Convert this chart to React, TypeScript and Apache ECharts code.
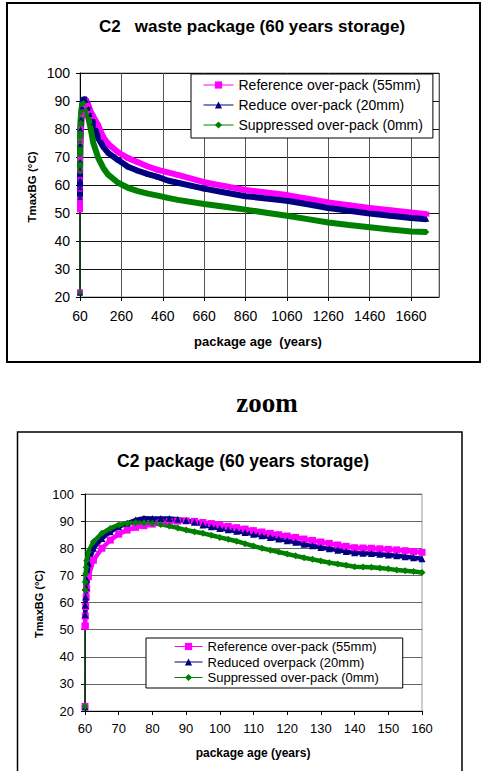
import React, { useEffect, useRef } from "react";
import * as echarts from "echarts";

// ---------- upper chart: package age 60 … 1736 years ----------
const LONG_AGES = [
  60, 60.05, 60.1, 60.2, 60.35, 60.5, 61, 62.5, 65, 70, 75, 80, 90, 100, 110, 124, 148, 172, 196,
  244, 292, 340, 388, 436, 484, 532, 660, 760, 860, 960, 1060, 1160, 1260, 1360, 1460, 1560, 1660,
  1736,
];
const LONG_REF_55 = [
  21.7, 51.3, 55, 58.5, 62, 65, 69.5, 75.6, 80, 85.2, 87.7, 88.9, 90.1, 88.6, 86.5, 84.5, 81.3,
  77.1, 74.7, 71.7, 69.6, 68.1, 66.6, 65.4, 64.5, 63.6, 61, 59.6, 58.2, 57.3, 56.4, 55.1, 53.8,
  52.8, 51.8, 51, 50.2, 49.6,
];
const LONG_RED_20 = [
  21.5, 55.5, 59, 62, 65.5, 68.5, 74.4, 80, 83.6, 87.9, 90.4, 91, 90.2, 87.3, 85.2, 82.1, 76.7,
  73.7, 71.5, 68.9, 66.5, 65.1, 63.9, 62.9, 61.6, 60.8, 58.7, 57.3, 56, 55.2, 54.4, 53.1, 51.8,
  50.8, 49.8, 49, 48.2, 47.8,
];
const LONG_SUP_0 = [
  21.7, 64.6, 67.6, 70.5, 73, 75.5, 78.7, 82.4, 85.5, 88.6, 89.4, 89.2, 86.7, 84, 80.8, 75.1, 69.7,
  66.2, 63.7, 60.8, 59, 57.8, 56.9, 56.2, 55.4, 54.7, 53.2, 52.2, 51.2, 50.1, 49, 47.8, 46.6, 45.7,
  44.9, 44.1, 43.4, 43.2,
];

// ---------- lower chart (zoom): package age 60 … 160 years ----------
const ZOOM_AGES = [
  60, 60.05, 60.1, 60.2, 60.35, 60.5, 61, 62.5, 65, 67.5, 70, 72.5, 75, 77.5, 80, 82.5, 85, 87.5,
  90, 92.5, 95, 97.5, 100, 102.5, 105, 107.5, 110, 112.5, 115, 117.5, 120, 122.5, 125, 127.5, 130,
  132.5, 135, 137.5, 140, 142.5, 145, 147.5, 150, 152.5, 155, 157.5, 160,
];
const ZOOM_REF_55 = [
  21.7, 51.3, 55, 58.5, 62, 65, 69.5, 75.6, 80, 83, 85.2, 86.7, 87.7, 88.3, 88.9, 89.4, 89.8, 90,
  90.1, 89.9, 89.5, 89.1, 88.6, 88.1, 87.6, 87.1, 86.5, 86, 85.5, 85, 84.5, 84, 83.4, 82.9, 82.3,
  81.8, 81.2, 80.7, 80.2, 80.1, 80, 79.8, 79.6, 79.4, 79.1, 78.8, 78.5,
];
const ZOOM_RED_20 = [
  21.5, 55.5, 59, 62, 65.5, 68.5, 74.4, 80, 83.6, 86.1, 87.9, 89.2, 90.4, 91.1, 91, 91, 91, 90.7,
  90.2, 89.6, 88.6, 87.9, 87.3, 86.8, 86.3, 85.8, 85.2, 84.6, 84, 83.4, 82.8, 82.2, 81.5, 80.9, 80.3,
  79.8, 79.3, 78.8, 78.3, 78.2, 78.1, 77.8, 77.5, 77.2, 76.9, 76.5, 76.1,
];
const ZOOM_SUP_0 = [
  21.7, 64.6, 67.6, 70.5, 73, 75.5, 78.7, 82.4, 85.5, 87.3, 88.6, 89.1, 89.4, 89.4, 89.2, 88.8, 88.2,
  87.5, 86.7, 86.1, 85.5, 84.8, 84, 83.3, 82.6, 81.7, 80.8, 80, 79.3, 78.6, 77.9, 77.2, 76.5, 75.9,
  75.3, 74.7, 74.2, 73.7, 73.2, 73.1, 73, 72.7, 72.4, 72, 71.7, 71.4, 71.1,
];

const TOP_NAMES = [
  "Reference over-pack (55mm)",
  "Reduce over-pack (20mm)",
  "Suppressed over-pack (0mm)",
];
const ZOOM_NAMES = [
  "Reference over-pack (55mm)",
  "Reduced overpack (20mm)",
  "Suppressed over-pack (0mm)",
];

const TOP_TITLE = "C2   waste package (60 years storage)";
const ZOOM_TITLE = "C2 package (60 years storage)";
const TOP_XNAME = "package age  (years)";
const ZOOM_XNAME = "package age (years)";
const YNAME = "TmaxBG (°C)";
const ZOOM_LABEL = "zoom";

const COLORS = ["#FF00FF", "#000080", "#008000"];
const SYMBOLS = ["rect", "triangle", "diamond"];
const FONT = "'Liberation Sans', Arial, Helvetica, sans-serif";

export default function App() {
  const ref = useRef<HTMLDivElement>(null);

  useEffect(() => {
    document.body.style.margin = "0";
    if (!ref.current) return;
    const chart = echarts.init(ref.current, null, { renderer: "svg" });

    const grids = [
      { ages: LONG_AGES, sets: [LONG_REF_55, LONG_RED_20, LONG_SUP_0], names: TOP_NAMES, lw: 6, ss: 5 },
      { ages: ZOOM_AGES, sets: [ZOOM_REF_55, ZOOM_RED_20, ZOOM_SUP_0], names: ZOOM_NAMES, lw: 4.5, ss: 7 },
    ];

    const series: any[] = [];
    // thin start segments (first reading at 60 years)
    grids.forEach((g, gi) => {
      g.sets.forEach((vals, si) => {
        const pts = g.ages.map((a, i) => [a, vals[i]]);
        series.push({
          type: "line",
          name: `start-${gi}-${si}`,
          xAxisIndex: gi,
          yAxisIndex: gi,
          data: pts.slice(0, 2),
          symbol: SYMBOLS[si],
          symbolSize: gi === 0 ? 6 : 7,
          showSymbol: true,
          color: COLORS[si],
          itemStyle: { color: COLORS[si] },
          lineStyle: { width: 1.2, color: "#1a3a1a" },
          silent: true,
          z: 1,
        });
      });
    });
    grids.forEach((g, gi) => {
      g.sets.forEach((vals, si) => {
        const pts = g.ages.map((a, i) => [a, vals[i]]);
        series.push({
          type: "line",
          name: g.names[si],
          xAxisIndex: gi,
          yAxisIndex: gi,
          data: pts.slice(1),
          symbol: SYMBOLS[si],
          symbolSize: g.ss,
          showSymbol: true,
          showAllSymbol: true,
          clip: true,
          color: COLORS[si],
          itemStyle: { color: COLORS[si] },
          lineStyle: { width: g.lw, color: COLORS[si] },
          emphasis: { disabled: true },
          silent: true,
          z: 2,
        });
      });
    });

    const axisCommon = (fontSize: number, margin: number) => ({
      type: "value",
      axisLine: { show: true, onZero: false, lineStyle: { color: "#000", width: 1 } },
      axisTick: { show: true, length: 4, inside: false, lineStyle: { color: "#000" } },
      axisLabel: {
        fontSize, color: "#000", fontFamily: FONT, margin,
        formatter: (v: number) => String(v),
      },
    });

    const legendCommon = {
      orient: "vertical",
      backgroundColor: "#fff",
      borderColor: "#000",
      borderWidth: 1,
      borderRadius: 0,
      selectedMode: false,
      lineStyle: { width: 1 },
    };

    const option: any = {
      animation: false,
      textStyle: { fontFamily: FONT },
      grid: [
        {
          left: 80, top: 73, width: 359, height: 224,
          show: true, borderColor: "#888", borderWidth: 1, backgroundColor: "transparent",
          containLabel: false, outerBoundsMode: "none",
        },
        {
          left: 85, top: 494, width: 337, height: 217,
          show: true, borderColor: "#999", borderWidth: 1, backgroundColor: "transparent",
          containLabel: false, outerBoundsMode: "none",
        },
      ],
      xAxis: [
        {
          ...axisCommon(14, 12),
          gridIndex: 0, min: 60, max: 1795, interval: 200,
          axisLabel: {
            fontSize: 14, color: "#000", fontFamily: FONT, margin: 12, showMaxLabel: false,
            formatter: (v: number) => String(v),
          },
          splitLine: { show: true, lineStyle: { color: "#555", width: 1 } },
        },
        {
          ...axisCommon(13, 11),
          gridIndex: 1, min: 60, max: 160, interval: 10,
          splitLine: { show: false },
        },
      ],
      yAxis: [
        {
          ...axisCommon(14, 10),
          gridIndex: 0, min: 20, max: 100, interval: 10,
          splitLine: { show: true, lineStyle: { color: "#111", width: 1 } },
        },
        {
          ...axisCommon(13, 11),
          gridIndex: 1, min: 20, max: 100, interval: 10,
          splitLine: { show: true, lineStyle: { color: "#666", width: 1 } },
        },
      ],
      legend: [
        {
          ...legendCommon,
          data: TOP_NAMES,
          left: 191, top: 74,
          padding: [4, 10, 6, 12],
          itemGap: 6, itemWidth: 30, itemHeight: 9,
          textStyle: { fontSize: 14, lineHeight: 14, color: "#000", fontFamily: FONT },
        },
        {
          ...legendCommon,
          data: ZOOM_NAMES,
          left: 146, top: 638,
          padding: [2, 24, 4, 28],
          itemGap: 2.5, itemWidth: 28, itemHeight: 9,
          textStyle: { fontSize: 13, lineHeight: 13, color: "#000", fontFamily: FONT },
        },
      ],
      series,
      graphic: {
        elements: [
          { type: "rect", silent: true, z: 100, shape: { x: 7, y: 3, width: 473, height: 359 },
            style: { fill: "none", stroke: "#000", lineWidth: 2 } },
          { type: "rect", silent: true, z: 100, shape: { x: 17.5, y: 432, width: 444.5, height: 400 },
            style: { fill: "none", stroke: "#000", lineWidth: 1.5 } },
          { type: "text", silent: true, z: 100, x: 252, y: 26,
            style: { text: TOP_TITLE, fill: "#000", fontSize: 17, fontWeight: "bold", fontFamily: FONT,
              align: "center", verticalAlign: "middle" } },
          { type: "text", silent: true, z: 100, x: 258, y: 341,
            style: { text: TOP_XNAME, fill: "#000", fontSize: 13, fontWeight: "bold", fontFamily: FONT,
              align: "center", verticalAlign: "middle" } },
          { type: "text", silent: true, z: 100, x: 32, y: 187, rotation: Math.PI / 2,
            style: { text: YNAME, fill: "#000", fontSize: 11.5, fontWeight: "bold", fontFamily: FONT,
              align: "center", verticalAlign: "middle" } },
          { type: "text", silent: true, z: 100, x: 267, y: 403,
            style: { text: ZOOM_LABEL, fill: "#000", fontSize: 27, fontWeight: "bold",
              fontFamily: "'Liberation Serif', 'DejaVu Serif', 'Times New Roman', serif",
              align: "center", verticalAlign: "middle" } },
          { type: "text", silent: true, z: 100, x: 243, y: 461,
            style: { text: ZOOM_TITLE, fill: "#000", fontSize: 17.5, fontWeight: "bold", fontFamily: FONT,
              align: "center", verticalAlign: "middle" } },
          { type: "text", silent: true, z: 100, x: 253, y: 753,
            style: { text: ZOOM_XNAME, fill: "#000", fontSize: 12, fontWeight: "bold", fontFamily: FONT,
              align: "center", verticalAlign: "middle" } },
          { type: "text", silent: true, z: 100, x: 39, y: 604, rotation: Math.PI / 2,
            style: { text: YNAME, fill: "#000", fontSize: 11, fontWeight: "bold", fontFamily: FONT,
              align: "center", verticalAlign: "middle" } },
        ],
      },
    };

    chart.setOption(option);
    return () => chart.dispose();
  }, []);

  return <div ref={ref} style={{ width: 481, height: 771 }} />;
}
